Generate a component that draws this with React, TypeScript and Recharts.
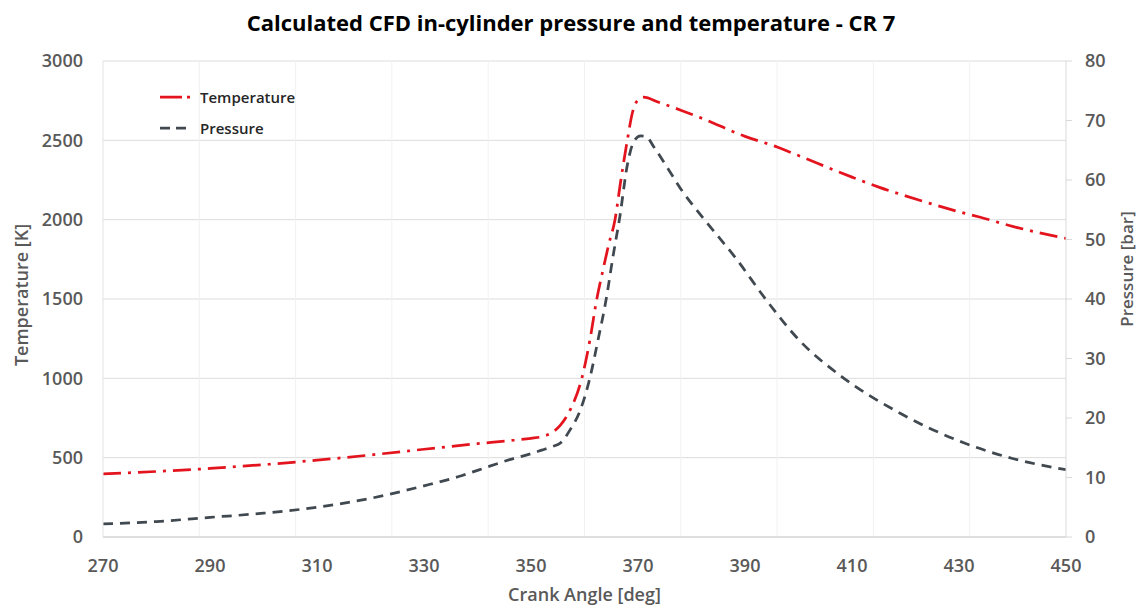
import React from 'react';
import {
  ComposedChart,
  Line,
  XAxis,
  YAxis,
  CartesianGrid,
  ReferenceLine,
} from 'recharts';

// crank angle [deg] / temperature [K]
const tempAngles = [
  270, 280, 290, 300, 310, 320, 330, 340, 346, 350, 352, 354, 355.5, 357.3, 359.5, 361, 362.3,
  363.5, 364.5, 365.7, 366.8, 368, 369, 370, 371, 374, 378, 382, 390, 396, 400, 410, 415, 420,
  430, 434, 440, 450,
];
const tempValues = [
  398, 413, 432, 456, 484, 517, 553, 588, 607, 622, 632, 660, 705, 800, 1000, 1240, 1500,
  1690, 1840, 2000, 2250, 2500, 2680, 2755, 2772, 2738, 2690, 2638, 2525, 2458, 2404, 2268, 2205,
  2150, 2050, 2015, 1958, 1882,
];

// crank angle [deg] / pressure [bar]
const pressAngles = [
  270, 280, 290, 300, 310, 320, 330, 337, 340, 346, 350, 352, 354, 355.5, 357.3, 359.2, 361,
  362.5, 364.1, 365.3, 366.6, 368, 369.3, 370.5, 371.5, 373, 375.4, 378, 382, 388.5, 394, 400,
  408, 419, 431, 440, 450,
];
const pressValues = [
  2.2, 2.6, 3.3, 4.0, 5.0, 6.5, 8.6, 10.3, 11.2, 13.0, 14.0, 14.6, 15.2, 15.8, 18.0, 21.3, 26.7,
  33, 40.2, 47, 53.8, 62.5, 66.6, 67.4, 67.3, 65.5, 62.2, 58.5, 53.8, 46.6, 39.8, 33.2,
  27, 20.8, 15.8, 13.2, 11.3,
];

const xTicks = [270, 290, 310, 330, 350, 370, 390, 410, 430, 450];
const tempTicks = [0, 500, 1000, 1500, 2000, 2500, 3000];
const pressTicks = [0, 10, 20, 30, 40, 50, 60, 70, 80];
const gridX = [288, 306, 324, 342, 360, 378, 396, 414, 432];

const tempData = tempAngles.map((a, i) => ({ angle: a, temperature: tempValues[i] }));
const pressData = pressAngles.map((a, i) => ({ angle: a, pressure: pressValues[i] }));

const FONT = '"Open Sans", sans-serif';
const TICK = { fontSize: 18, fill: '#595959', fontFamily: FONT, fontWeight: 600 };
const RED = '#e3141d';
const GREY = '#404850';

const LegendBox = () => (
  <svg
    width={160}
    height={56}
    style={{ position: 'absolute', left: 158, top: 85, overflow: 'visible', zIndex: 2 }}
  >
    <line x1={2} y1={12} x2={34} y2={12} stroke={RED} strokeWidth={2.75} strokeDasharray="22 5 3 5" />
    <text x={42} y={12} dominantBaseline="central" fontSize={15} fontFamily={FONT} fontWeight={600} fill="#262626">
      Temperature
    </text>
    <line x1={2} y1={43} x2={30} y2={43} stroke={GREY} strokeWidth={2.75} strokeDasharray="10 6" />
    <text x={42} y={43} dominantBaseline="central" fontSize={15} fontFamily={FONT} fontWeight={600} fill="#262626">
      Pressure
    </text>
  </svg>
);

export default function App() {
  return (
    <div style={{ position: 'relative', width: 1137, height: 606, background: '#fff' }}>
      <style>{'body{margin:0}'}</style>
      <div
        style={{
          position: 'absolute',
          left: 0,
          top: 7,
          width: 1142,
          textAlign: 'center',
          fontFamily: FONT,
          fontWeight: 700,
          fontSize: 22,
          color: '#000',
          zIndex: 2,
        }}
      >
        Calculated CFD in-cylinder pressure and temperature - CR 7
      </div>
      <LegendBox />
      <ComposedChart width={1137} height={606} margin={{ top: 61, right: 0, bottom: 0, left: 0 }}>
        <CartesianGrid yAxisId="T" vertical={false} stroke="#dcdcdc" />
        {gridX.map((v) => (
          <ReferenceLine key={v} x={v} yAxisId="T" stroke="#f1f1f1" />
        ))}
        <XAxis
          type="number"
          dataKey="angle"
          domain={[270, 450]}
          ticks={xTicks}
          allowDataOverflow
          height={69}
          tick={TICK}
          tickLine={false}
          tickSize={0}
          tickMargin={22}
          stroke="#cfcfcf"
          label={({ viewBox }: any) => (
            <text
              x={viewBox.x + viewBox.width / 2}
              y={594}
              textAnchor="middle"
              dominantBaseline="central"
              fontSize={18}
              fontFamily={FONT}
              fontWeight={600}
              fill="#595959"
            >
              Crank Angle [deg]
            </text>
          )}
        />
        <YAxis
          yAxisId="T"
          domain={[0, 3000]}
          ticks={tempTicks}
          width={103}
          tick={TICK}
          tickLine={false}
          tickSize={18}
          tickMargin={2}
          stroke="#e3e3e3"
          label={({ viewBox }: any) => {
            const cy = viewBox.y + viewBox.height / 2 - 4;
            return (
              <text
                x={21}
                y={cy}
                transform={`rotate(-90 21 ${cy})`}
                textAnchor="middle"
                dominantBaseline="central"
                fontSize={18}
                fontFamily={FONT}
                fontWeight={600}
                fill="#595959"
              >
                Temperature [K]
              </text>
            );
          }}
        />
        <YAxis
          yAxisId="P"
          orientation="right"
          domain={[0, 80]}
          ticks={pressTicks}
          width={71}
          tick={TICK}
          tickLine={{ stroke: '#d9d9d9' }}
          tickSize={6}
          tickMargin={13}
          stroke="#d9d9d9"
          label={({ viewBox }: any) => {
            const cx = viewBox.x + 60;
            const cy = viewBox.y + viewBox.height / 2 - 30;
            return (
              <text
                x={cx}
                y={cy}
                transform={`rotate(-90 ${cx} ${cy})`}
                textAnchor="middle"
                dominantBaseline="central"
                fontSize={17}
                fontFamily={FONT}
                fontWeight={600}
                fill="#595959"
              >
                Pressure [bar]
              </text>
            );
          }}
        />
        <Line
          yAxisId="T"
          data={tempData}
          dataKey="temperature"
          name="Temperature"
          type="monotone"
          stroke={RED}
          strokeWidth={2.75}
          strokeDasharray="18 7 3 7"
          dot={false}
          isAnimationActive={false}
        />
        <Line
          yAxisId="P"
          data={pressData}
          dataKey="pressure"
          name="Pressure"
          type="monotone"
          stroke={GREY}
          strokeWidth={2.75}
          strokeDasharray="10 7"
          dot={false}
          isAnimationActive={false}
        />
      </ComposedChart>
    </div>
  );
}
